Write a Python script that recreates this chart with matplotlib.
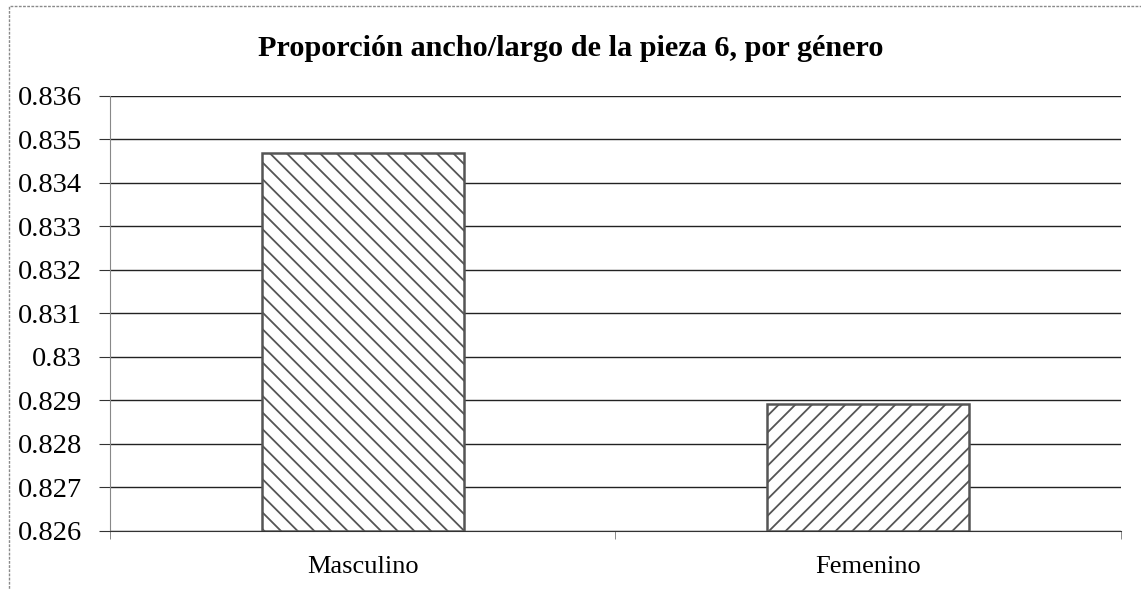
import matplotlib
matplotlib.use("Agg")
import matplotlib.pyplot as plt
from matplotlib.patches import Rectangle
from matplotlib.ticker import FixedLocator, FuncFormatter

# data
categories = ["Masculino", "Femenino"]
values = [0.83469, 0.82893]
hatches = ["\\\\", "//"]
y_ticks = [0.826, 0.827, 0.828, 0.829, 0.830, 0.831, 0.832, 0.833, 0.834, 0.835, 0.836]
title = "Proporción ancho/largo de la pieza 6, por género"

plt.rcParams["font.family"] = ["Liberation Serif", "DejaVu Serif"]
plt.rcParams["hatch.linewidth"] = 1.3
plt.rcParams["hatch.color"] = "#3a3a3a"

fig = plt.figure(figsize=(11.41, 5.90), dpi=100)
ax = fig.add_axes([0.0964, 0.1, 0.886, 0.7373])

# dashed-looking outer chart border (cropped at the right/bottom)
fig.patches.append(Rectangle((0.0079, -0.05), 1.05, 1.0398, transform=fig.transFigure,
                             fill=False, edgecolor="#8a8a8a", linewidth=1.0, linestyle=(0, (2, 1))))

x = list(range(len(categories)))
for i, (v, h) in enumerate(zip(values, hatches)):
    ax.bar(x[i], v - y_ticks[0], bottom=y_ticks[0], width=0.4, facecolor="white",
           edgecolor="#555555", linewidth=1.8, hatch=h, zorder=3)

ax.set_xlim(-0.5, len(categories) - 0.5)
ax.set_ylim(y_ticks[0], y_ticks[-1])
ax.yaxis.set_major_locator(FixedLocator(y_ticks))
ax.yaxis.set_major_formatter(FuncFormatter(lambda v, p: f"{v:g}"))
ax.grid(axis="y", color="#222222", linewidth=1.0, zorder=0)
ax.set_axisbelow(True)

ax.set_xticks(x)
ax.set_xticklabels(categories, fontsize=19)
ax.set_xticks([-0.5, 0.5, 1.5], minor=True)
ax.tick_params(axis="x", which="major", length=0, pad=18)
ax.tick_params(axis="x", which="minor", length=6, color="#777777", direction="out")
ax.tick_params(axis="y", labelsize=20.5, length=8, color="#333333", pad=12)

for s in ["top", "right"]:
    ax.spines[s].set_visible(False)
ax.spines["left"].set_color("#888888")
ax.spines["bottom"].set_color("#333333")

fig.text(0.5, 0.918, title, ha="center", va="center", fontsize=21.8, fontweight="bold")

fig.savefig("out.png", dpi=100, facecolor="white")
